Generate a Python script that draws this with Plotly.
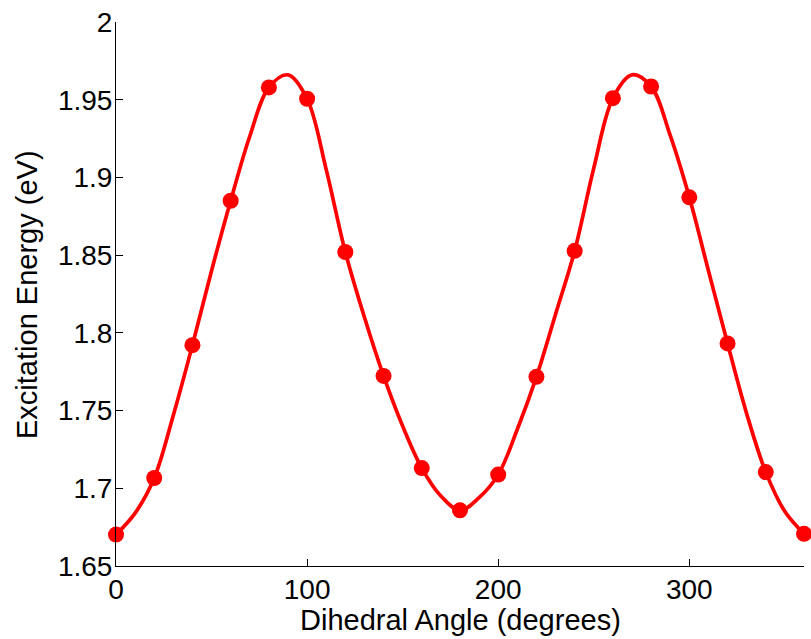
import plotly.graph_objects as go

# Measured points (degrees, eV)
angles = [0, 20, 40, 60, 80, 100, 120, 140, 160, 180, 200, 220, 240, 260, 280, 300, 320, 340, 360]
energies = [1.6702, 1.7066, 1.7921, 1.8850, 1.9579, 1.9506, 1.8520, 1.7723, 1.7130, 1.6858,
            1.7088, 1.7717, 1.8528, 1.9510, 1.9585, 1.8872, 1.7932, 1.7104, 1.6707]

# Smooth fitted curve, values every 10 degrees
fit_angles = [0, 10, 20, 30, 40, 50, 60, 70, 80, 90, 100, 110, 120, 130, 140, 150, 160, 170, 180,
              190, 200, 210, 220, 230, 240, 250, 260, 270, 280, 290, 300, 310, 320, 330, 340, 350, 360]
fit_energies = [1.6702, 1.6840, 1.7066, 1.7470, 1.7921, 1.8400, 1.8850, 1.9265, 1.9579, 1.9660,
                1.9506, 1.9050, 1.8520, 1.8100, 1.7723, 1.7400, 1.7130, 1.6950, 1.6858,
                1.6940, 1.7088, 1.7380, 1.7717, 1.8120, 1.8528, 1.9060, 1.9510, 1.9660,
                1.9585, 1.9270, 1.8872, 1.8400, 1.7932, 1.7480, 1.7104, 1.6850, 1.6707]

x_ticks = [0, 100, 200, 300]
y_ticks = [1.65, 1.7, 1.75, 1.8, 1.85, 1.9, 1.95, 2]
y_tick_text = ["1.65", "1.7", "1.75", "1.8", "1.85", "1.9", "1.95", "2"]
x_title = "Dihedral Angle (degrees)"
y_title = "Excitation Energy (eV)"

FONT = "Liberation Sans, Arial, Helvetica, sans-serif"

fig = go.Figure()
fig.add_trace(go.Scatter(
    x=fit_angles, y=fit_energies, mode="lines",
    line=dict(color="#ff0000", width=3.7, shape="spline", smoothing=1.0),
    cliponaxis=False, showlegend=False, hoverinfo="skip"))
fig.add_trace(go.Scatter(
    x=angles, y=energies, mode="markers",
    marker=dict(color="#ff0000", size=16, line=dict(width=0)),
    cliponaxis=False, showlegend=False))

fig.update_layout(
    width=811, height=639,
    margin=dict(l=116, r=7, t=22, b=73),
    paper_bgcolor="white", plot_bgcolor="white",
    font=dict(family=FONT, color="black", size=28),
    xaxis=dict(
        range=[0, 360], tickvals=x_ticks, ticks="inside", ticklen=7, tickwidth=1,
        tickcolor="black", showline=True, linecolor="black", linewidth=1,
        showgrid=False, zeroline=False, tickfont=dict(size=28),
        automargin=False, ticklabelstandoff=-2,
    ),
    yaxis=dict(
        range=[1.65, 2], tickvals=y_ticks, ticktext=y_tick_text, ticks="inside",
        ticklen=7, tickwidth=1, tickcolor="black", showline=True, linecolor="black",
        linewidth=1, showgrid=False, zeroline=False, tickfont=dict(size=28),
        automargin=False, ticklabelstandoff=-3,
    ),
    annotations=[
        dict(text=x_title, xref="paper", yref="paper", x=0.5, y=-0.0993,
             xanchor="center", yanchor="middle", showarrow=False, font=dict(size=29)),
        dict(text=y_title, xref="paper", yref="paper", x=-0.1294, y=0.5,
             xanchor="center", yanchor="middle", textangle=-90, showarrow=False,
             font=dict(size=29)),
    ],
)

fig.write_html(
    "out.html",
    config={"displayModeBar": False},
    post_script="document.body.style.margin='0';document.body.style.overflow='hidden';",
)
